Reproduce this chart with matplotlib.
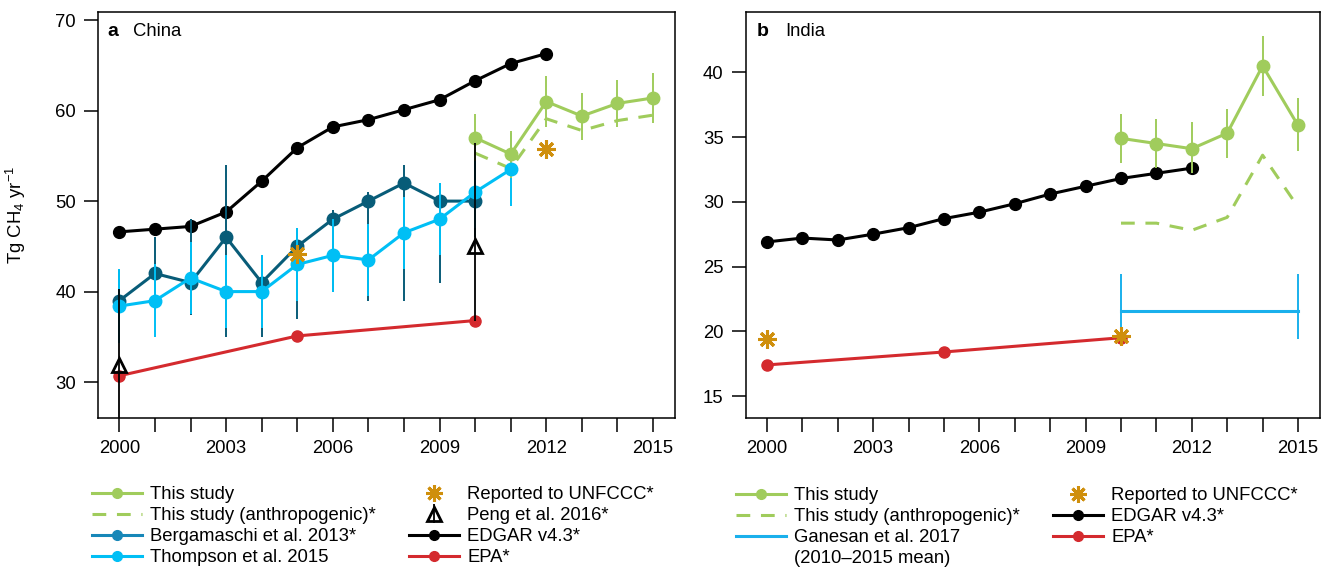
import matplotlib
matplotlib.use("Agg")
import matplotlib.pyplot as plt
from matplotlib.lines import Line2D

plt.rcParams['font.family'] = ['Liberation Sans', 'DejaVu Sans']
plt.rcParams['mathtext.default'] = 'regular'
plt.rcParams['font.size'] = 13

# ---- data: China (panel a) ----
edgar_years = list(range(2000, 2013))
china_edgar = [46.6, 46.9, 47.2, 48.8, 52.2, 55.9, 58.2, 59.0, 60.1, 61.2, 63.3, 65.2, 66.3]

berg_years = list(range(2000, 2011))
china_berg = [39, 42, 41, 46, 41, 45, 48, 50, 52, 50, 50]
china_berg_hi = [42.4, 46.0, 48.0, 54.0, 44.0, 47.0, 49.0, 51.0, 54.0, 52.0, 53.0]
china_berg_lo = [37.0, 38.0, 37.4, 35.0, 35.0, 37.0, 40.0, 39.0, 39.0, 41.0, 46.0]

thompson_years = list(range(2000, 2012))
china_thompson = [38.4, 39.0, 41.5, 40.0, 40.0, 43.0, 44.0, 43.5, 46.5, 48.0, 51.0, 53.5]
china_thompson_err = [4.1, 4.0, 4.0, 4.0, 4.0, 4.0, 4.0, 4.0, 4.0, 4.0, 4.0, 4.0]

study_years = list(range(2010, 2016))
china_study = [57.0, 55.2, 61.0, 59.4, 60.8, 61.4]
china_study_err = [2.6, 2.6, 2.8, 2.6, 2.6, 2.8]
china_anthro = [55.3, 53.6, 59.1, 57.8, 58.9, 59.5]

china_unfccc_years = [2005, 2012]
china_unfccc = [44.1, 55.8]

peng_years = [2000, 2010]
china_peng = [31.9, 45.0]
china_peng_hi = [40.3, 56.4]
china_peng_lo = [20.0, 36.8]

epa_years = [2000, 2005, 2010]
china_epa = [30.7, 35.1, 36.8]

# ---- data: India (panel b) ----
india_edgar = [26.9, 27.2, 27.05, 27.5, 28.0, 28.7, 29.2, 29.85, 30.6, 31.2, 31.8, 32.2, 32.6]
india_study = [34.9, 34.5, 34.1, 35.3, 40.5, 35.9]
india_study_hi = [36.8, 36.4, 36.2, 37.2, 42.8, 38.0]
india_study_lo = [33.0, 32.6, 32.2, 33.4, 38.2, 33.9]
india_anthro = [28.35, 28.35, 27.8, 28.8, 33.6, 29.6]
india_epa = [17.4, 18.4, 19.5]
india_unfccc_years = [2000, 2010]
india_unfccc = [19.4, 19.6]
ganesan_years = [2010, 2015]
ganesan_mean = 21.6
ganesan_lo = 19.4
ganesan_hi = 24.4

tick_years = list(range(2000, 2016))

GREEN = '#a0cc5c'
TEAL = '#085c78'
TEAL_LEG = '#1787b8'
SKY = '#00bff5'
RED = '#d42a2e'
GOLD = '#cf8f0c'
GANESAN = '#1ab0ec'
STAR = (8, 2, 0)

LW = 2.2
ELW = 1.4


def style_axes(ax, ylim, yticks):
    ax.set_xlim(1999.4, 2015.62)
    ax.set_ylim(*ylim)
    ax.set_xticks(tick_years)
    ax.set_xticklabels([str(y) if (y - 2000) % 3 == 0 else '' for y in tick_years])
    ax.set_yticks(yticks)
    ax.tick_params(direction='out', length=10, width=1.1, pad=6, labelsize=13.3)
    for s in ax.spines.values():
        s.set_linewidth(1.1)


def err(vals, hi, lo):
    return [[v - l for v, l in zip(vals, lo)], [h - v for v, h in zip(vals, hi)]]


fig = plt.figure(figsize=(13.25, 5.68), dpi=100)
ax_a = fig.add_axes([0.0740, 0.2636, 0.4355, 0.7153])
ax_b = fig.add_axes([0.5628, 0.2636, 0.4334, 0.7153])

# ---------------- panel a: China ----------------
ax = ax_a
ax.plot(epa_years, china_epa, '-o', color=RED, lw=LW, ms=8, zorder=3)
ax.plot(edgar_years, china_edgar, '-o', color='black', lw=LW, ms=8.5, zorder=3)
ax.errorbar(berg_years, china_berg, yerr=err(china_berg, china_berg_hi, china_berg_lo),
            fmt='-o', color=TEAL, lw=LW, ms=9, elinewidth=ELW, capsize=0, zorder=4)
ax.errorbar(thompson_years, china_thompson, yerr=china_thompson_err,
            fmt='-o', color=SKY, lw=LW, ms=9, elinewidth=ELW, capsize=0, zorder=5)
ax.errorbar(study_years, china_study, yerr=china_study_err,
            fmt='-o', color=GREEN, lw=LW, ms=9, elinewidth=ELW, capsize=0, zorder=5)
ax.plot(study_years, china_anthro, color=GREEN, lw=LW, dashes=(4.5, 3.5), zorder=5)
peng_a = ax.errorbar(peng_years, china_peng, yerr=err(china_peng, china_peng_hi, china_peng_lo),
                     fmt='^', color='black', mfc='none', mec='black', mew=2, ms=10,
                     elinewidth=1.3, capsize=0, zorder=6)
ax.plot(china_unfccc_years, china_unfccc, ls='none', marker=STAR, color=GOLD,
        ms=13, mew=2.2, zorder=7)

style_axes(ax, (26.0, 70.9), [30, 40, 50, 60, 70])
ax.set_ylabel('Tg CH$_4$ yr$^{-1}$', fontsize=13.3)
ax.yaxis.set_label_coords(-0.121, 0.5)
ax.text(0.016, 0.951, 'a', transform=ax.transAxes, fontsize=14, fontweight='bold', va='center')
ax.text(0.061, 0.951, 'China', transform=ax.transAxes, fontsize=13.3, va='center')

# ---------------- panel b: India ----------------
ax = ax_b
ax.plot(epa_years, india_epa, '-o', color=RED, lw=LW, ms=8, zorder=3)
ax.plot(edgar_years, india_edgar, '-o', color='black', lw=LW, ms=8.5, zorder=3)
ax.errorbar(study_years, india_study, yerr=err(india_study, india_study_hi, india_study_lo),
            fmt='-o', color=GREEN, lw=LW, ms=9, elinewidth=ELW, capsize=0, zorder=5)
ax.plot(study_years, india_anthro, color=GREEN, lw=LW, dashes=(4.5, 3.5), zorder=5)
ax.errorbar(ganesan_years, [ganesan_mean] * 2,
            yerr=[[ganesan_mean - ganesan_lo] * 2, [ganesan_hi - ganesan_mean] * 2],
            fmt='-', color=GANESAN, lw=LW, elinewidth=ELW, capsize=0, zorder=4)
ax.plot(india_unfccc_years, india_unfccc, ls='none', marker=STAR, color=GOLD,
        ms=13, mew=2.2, zorder=7)

style_axes(ax, (13.28, 44.66), [15, 20, 25, 30, 35, 40])
ax.text(0.02, 0.951, 'b', transform=ax.transAxes, fontsize=14, fontweight='bold', va='center')
ax.text(0.068, 0.951, 'India', transform=ax.transAxes, fontsize=13.3, va='center')

# ---------------- legends ----------------
h_study = Line2D([], [], color=GREEN, lw=LW, marker='o', ms=7)
h_anthro = Line2D([], [], color=GREEN, lw=LW, dashes=(4.5, 3.5))
h_berg = Line2D([], [], color=TEAL_LEG, lw=LW, marker='o', ms=7)
h_thom = Line2D([], [], color=SKY, lw=LW, marker='o', ms=7)
h_unf = Line2D([], [], ls='none', marker=STAR, color=GOLD, ms=12, mew=2.2)
h_edgar = Line2D([], [], color='black', lw=LW, marker='o', ms=7)
h_epa = Line2D([], [], color=RED, lw=LW, marker='o', ms=7)
h_gan = Line2D([], [], color=GANESAN, lw=LW)
h_blank = Line2D([], [], color='none', lw=0)

leg_kw = dict(loc='upper left', frameon=False, borderpad=0, borderaxespad=0,
              handlelength=2.7, handletextpad=0.45, labelspacing=0.22, fontsize=13.3)
W, H = 1325.0, 568.0
fig.legend([h_study, h_anthro, h_berg, h_thom],
           ['This study', 'This study (anthropogenic)*', 'Bergamaschi et al. 2013*',
            'Thompson et al. 2015'],
           bbox_to_anchor=(92 / W, 1 - 486 / H), **leg_kw)
fig.legend([h_unf, peng_a, h_edgar, h_epa],
           ['Reported to UNFCCC*', 'Peng et al. 2016*', 'EDGAR v4.3*', 'EPA*'],
           bbox_to_anchor=(409 / W, 1 - 486 / H), **leg_kw)
fig.legend([h_study, h_anthro, h_gan, h_blank],
           ['This study', 'This study (anthropogenic)*', 'Ganesan et al. 2017',
            '(2010\u20132015 mean)'],
           bbox_to_anchor=(736 / W, 1 - 487 / H), **leg_kw)
fig.legend([h_unf, h_edgar, h_epa],
           ['Reported to UNFCCC*', 'EDGAR v4.3*', 'EPA*'],
           bbox_to_anchor=(1053 / W, 1 - 487 / H), **leg_kw)

fig.savefig('out.png', dpi=100)
